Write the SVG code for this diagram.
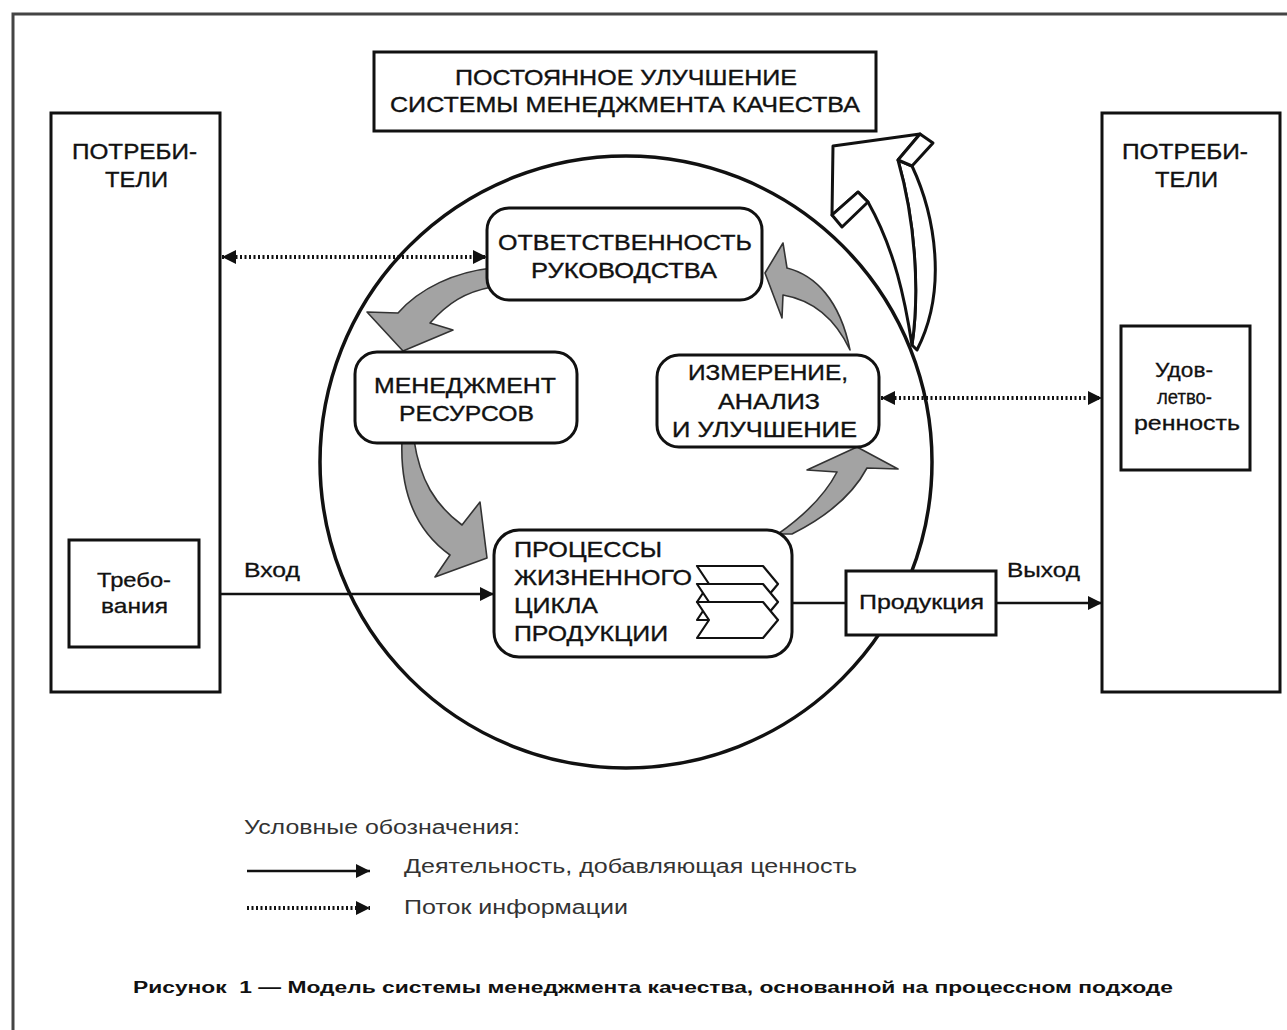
<svg xmlns="http://www.w3.org/2000/svg" width="1287" height="1030" viewBox="0 0 1287 1030">
<style>
text{font-family:"Liberation Sans",Arial,sans-serif;fill:#111}
.cap{font-size:22px;stroke:#111;stroke-width:0.35}
.lc{font-size:21px;stroke:#111;stroke-width:0.3}
.leg{font-size:20px;fill:#333}
.box{fill:#fff;stroke:#111;stroke-width:3}
.gray{fill:#a3a3a3;stroke:#333;stroke-width:1.6;stroke-linejoin:round}
.solid{fill:none;stroke:#111;stroke-width:2.5}
.dot{fill:none;stroke:#111;stroke-width:4;stroke-dasharray:2 2.5}
.out{fill:#fff;stroke:#111;stroke-width:3;stroke-linejoin:round}
.chev{fill:#fff;stroke:#111;stroke-width:2.2;stroke-linejoin:round}
</style>
<defs>
<marker id="ah" viewBox="0 0 10 10" refX="10" refY="5" markerUnits="userSpaceOnUse" markerWidth="26" markerHeight="14" orient="auto-start-reverse">
<path d="M0,0 L10,5 L0,10 Z" fill="#111" stroke="none"/>
</marker>
</defs>
<rect x="0" y="0" width="1287" height="1030" fill="#fff"/>
<path d="M13,1030 V14 H1287" fill="none" stroke="#444" stroke-width="3"/>
<g id="circle"><circle cx="626" cy="462" r="306" fill="none" stroke="#111" stroke-width="3.5"/></g>
<g id="improvement-arrow">
<path class="out" d="M912,166 C935,215 948,290 917,350 L912,345 C920,290 915,220 898,160 Z"/>
<path class="out" d="M833,146 L920,134 L898,160 C915,220 920,290 912,345 C905,300 895,250 868,202 L858,192 L832,215 Z"/>
<path class="out" d="M898,160 L920,134 L933,143 L912,166 Z"/>
<path class="out" d="M832,215 L858,192 L868,202 L842,227 Z"/>
</g>
<g id="cycle-arrows">
<path class="gray" d="M492,268 C455,272 420,288 398,313 L367,312 L403,351 L453,330 L430,323 C448,303 465,292 492,287 Z"/>
<path class="gray" d="M402,440 C400,490 415,530 450,555 L435,577 L487,558 L480,502 L462,525 C435,505 420,480 414,440 Z"/>
<path class="gray" d="M778,534 C805,515 825,495 837,472 L807,470 L857,447 L898,469 L867,468 C850,500 820,520 792,534 Z"/>
<path class="gray" d="M787,268 C815,275 840,300 850,350 C835,318 812,300 783,295 L782,318 L765,273 L783,243 Z"/>
</g>
<g id="connectors">
<path class="dot" d="M222,257 H487" marker-start="url(#ah)" marker-end="url(#ah)"/>
<path class="dot" d="M881,398 H1102" marker-start="url(#ah)" marker-end="url(#ah)"/>
<path class="solid" d="M199,594 H494" marker-end="url(#ah)"/>
<path class="solid" d="M792,603 H846"/>
<path class="solid" d="M996,603 H1102" marker-end="url(#ah)"/>
<text class="lc" x="244" y="577" textLength="56" lengthAdjust="spacingAndGlyphs">Вход</text>
<text class="lc" x="1007" y="577" textLength="73" lengthAdjust="spacingAndGlyphs">Выход</text>
</g>
<g id="top-box">
<rect class="box" x="374" y="52" width="502" height="79"/>
<text class="cap" x="455" y="85" textLength="342" lengthAdjust="spacingAndGlyphs">ПОСТОЯННОЕ УЛУЧШЕНИЕ</text>
<text class="cap" x="390" y="112" textLength="470" lengthAdjust="spacingAndGlyphs">СИСТЕМЫ МЕНЕДЖМЕНТА КАЧЕСТВА</text>
</g>
<g id="consumers-left">
<rect class="box" x="51" y="113" width="169" height="579"/>
<text class="cap" x="72" y="159" textLength="125" lengthAdjust="spacingAndGlyphs">ПОТРЕБИ-</text>
<text class="cap" x="105" y="187" textLength="63" lengthAdjust="spacingAndGlyphs">ТЕЛИ</text>
</g>
<g id="requirements">
<rect class="box" x="69" y="540" width="130" height="107"/>
<text class="lc" x="97" y="587" textLength="74" lengthAdjust="spacingAndGlyphs">Требо-</text>
<text class="lc" x="101" y="613" textLength="67" lengthAdjust="spacingAndGlyphs">вания</text>
</g>
<g id="consumers-right">
<rect class="box" x="1102" y="113" width="178" height="579"/>
<text class="cap" x="1122" y="159" textLength="126" lengthAdjust="spacingAndGlyphs">ПОТРЕБИ-</text>
<text class="cap" x="1155" y="187" textLength="63" lengthAdjust="spacingAndGlyphs">ТЕЛИ</text>
</g>
<g id="satisfaction">
<rect class="box" x="1121" y="326" width="129" height="144"/>
<text class="lc" x="1155" y="377" textLength="58" lengthAdjust="spacingAndGlyphs">Удов-</text>
<text class="lc" x="1157" y="404" textLength="55" lengthAdjust="spacingAndGlyphs">летво-</text>
<text class="lc" x="1134" y="430" textLength="106" lengthAdjust="spacingAndGlyphs">ренность</text>
</g>
<g id="management-responsibility">
<rect class="box" x="487" y="208" width="275" height="92" rx="22"/>
<text class="cap" x="498" y="250" textLength="254" lengthAdjust="spacingAndGlyphs">ОТВЕТСТВЕННОСТЬ</text>
<text class="cap" x="531" y="278" textLength="186" lengthAdjust="spacingAndGlyphs">РУКОВОДСТВА</text>
</g>
<g id="resource-management">
<rect class="box" x="355" y="352" width="222" height="91" rx="22"/>
<text class="cap" x="374" y="393" textLength="182" lengthAdjust="spacingAndGlyphs">МЕНЕДЖМЕНТ</text>
<text class="cap" x="399" y="421" textLength="135" lengthAdjust="spacingAndGlyphs">РЕСУРСОВ</text>
</g>
<g id="measurement">
<rect class="box" x="657" y="355" width="222" height="92" rx="22"/>
<text class="cap" x="688" y="380" textLength="160" lengthAdjust="spacingAndGlyphs">ИЗМЕРЕНИЕ,</text>
<text class="cap" x="718" y="409" textLength="102" lengthAdjust="spacingAndGlyphs">АНАЛИЗ</text>
<text class="cap" x="672" y="437" textLength="185" lengthAdjust="spacingAndGlyphs">И УЛУЧШЕНИЕ</text>
</g>
<g id="product-realization">
<rect class="box" x="494" y="530" width="298" height="127" rx="25"/>
<text class="cap" x="514" y="557" textLength="148" lengthAdjust="spacingAndGlyphs">ПРОЦЕССЫ</text>
<text class="cap" x="514" y="585" textLength="178" lengthAdjust="spacingAndGlyphs">ЖИЗНЕННОГО</text>
<text class="cap" x="514" y="613" textLength="84" lengthAdjust="spacingAndGlyphs">ЦИКЛА</text>
<text class="cap" x="514" y="641" textLength="154" lengthAdjust="spacingAndGlyphs">ПРОДУКЦИИ</text>
<path class="chev" d="M697,566 L763,566 L778,584 L763,602 L697,602 L709,584 Z"/>
<path class="chev" d="M697,584 L763,584 L778,602 L763,620 L697,620 L709,602 Z"/>
<path class="chev" d="M697,602 L763,602 L778,620 L763,638 L697,638 L709,620 Z"/>
</g>
<g id="product">
<rect class="box" x="846" y="571" width="150" height="64"/>
<text class="lc" x="859" y="609" textLength="125" lengthAdjust="spacingAndGlyphs">Продукция</text>
</g>
<g id="legend">
<text class="leg" x="244" y="834" textLength="276" lengthAdjust="spacingAndGlyphs">Условные обозначения:</text>
<path class="solid" d="M247,871 H370" marker-end="url(#ah)"/>
<text class="leg" x="404" y="873" textLength="453" lengthAdjust="spacingAndGlyphs">Деятельность, добавляющая ценность</text>
<path class="dot" d="M247,908 H370" marker-end="url(#ah)"/>
<text class="leg" x="404" y="914" textLength="224" lengthAdjust="spacingAndGlyphs">Поток информации</text>
</g>
<text x="133" y="993" font-size="16" font-weight="bold" fill="#333" textLength="1040" lengthAdjust="spacingAndGlyphs">Рисунок&#160; 1 — Модель системы менеджмента качества, основанной на процессном подходе</text>
</svg>
